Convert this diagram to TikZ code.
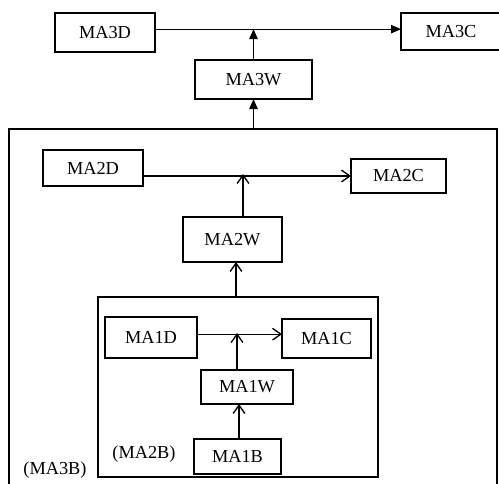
\documentclass[tikz,border=0pt]{standalone}
\usepackage{fontspec}
\setmainfont{Liberation Serif}
\usetikzlibrary{arrows.meta}

\begin{document}
\begin{tikzpicture}[x=0.6pt,y=-0.6pt]

\tikzstyle{boxnode} = [draw,line width=0.8pt,inner sep=0pt,outer sep=0pt,font=\fontsize{11}{13}\selectfont];
\tikzstyle{framenode} = [draw,line width=0.8pt,inner sep=0pt,outer sep=0pt];
\tikzstyle{filledarrow} = [-{Triangle[length=6pt,width=5pt]},line width=0.8pt];
\tikzstyle{openarrow} = [-{Straight Barb[length=5pt,width=7pt]},line width=0.8pt];

\useasboundingbox (0,0) rectangle (499,483);
\clip (0,0) rectangle (499,483);

% level 3
\node [boxnode,anchor=north west,minimum width=60pt,minimum height=23.4pt] (ma3d) at (55,13) {MA3D};
\node [boxnode,anchor=north west,minimum width=60pt,minimum height=22.2pt] (ma3c) at (401,13) {MA3C};
\node [boxnode,anchor=north west,minimum width=70.2pt,minimum height=23.4pt] (ma3w) at (195,60) {MA3W};
\node [framenode,anchor=north west,minimum width=292.8pt,minimum height=240pt] (b3) at (9,129) {};
\node [anchor=center,font=\fontsize{11}{13}\selectfont] (l3) at (55,470) {(MA3B)};

\draw [filledarrow] ([yshift=2pt]ma3d.east) -- ([yshift=2pt]ma3d.east -| ma3c.west);
\draw [filledarrow] (b3.north -| ma3w) -- (ma3w.south);
\draw [filledarrow] (ma3w.north) -- (ma3w.north |- 0,29);

% level 2
\node [boxnode,anchor=north west,minimum width=60pt,minimum height=21.6pt] (ma2d) at (43,150) {MA2D};
\node [boxnode,anchor=north west,minimum width=57pt,minimum height=20.4pt] (ma2c) at (351,159) {MA2C};
\node [boxnode,anchor=north west,minimum width=59.4pt,minimum height=27pt] (ma2w) at (183,217) {MA2W};
\node [framenode,anchor=north west,minimum width=168pt,minimum height=108pt] (b2) at (98,297) {};
\node [anchor=center,font=\fontsize{11}{13}\selectfont] (l2) at (144,454) {(MA2B)};

\draw [openarrow] (ma2d.east |- ma2c.west) -- (ma2c.west);
\draw [openarrow] (b2.north -| 236,0) -- (ma2w.south -| 236,0);
\draw [openarrow] (ma2w.north -| 243,0) -- (243,174);

% level 1
\node [boxnode,anchor=north west,minimum width=55.2pt,minimum height=24.6pt] (ma1d) at (105,317) {MA1D};
\node [boxnode,anchor=north west,minimum width=53.4pt,minimum height=23.4pt] (ma1c) at (282,319) {MA1C};
\node [boxnode,anchor=north west,minimum width=55.2pt,minimum height=20.4pt] (ma1w) at (201,370) {MA1W};
\node [boxnode,anchor=north west,minimum width=52.2pt,minimum height=21pt] (ma1b) at (194,439) {MA1B};

\draw [openarrow] ([yshift=2pt]ma1d.east) -- ([yshift=2pt]ma1d.east -| ma1c.west);
\draw [openarrow] (ma1b.north -| 239,0) -- (ma1w.south -| 239,0);
\draw [openarrow] (ma1w.north -| 237,0) -- (237,333);

\end{tikzpicture}
\end{document}
